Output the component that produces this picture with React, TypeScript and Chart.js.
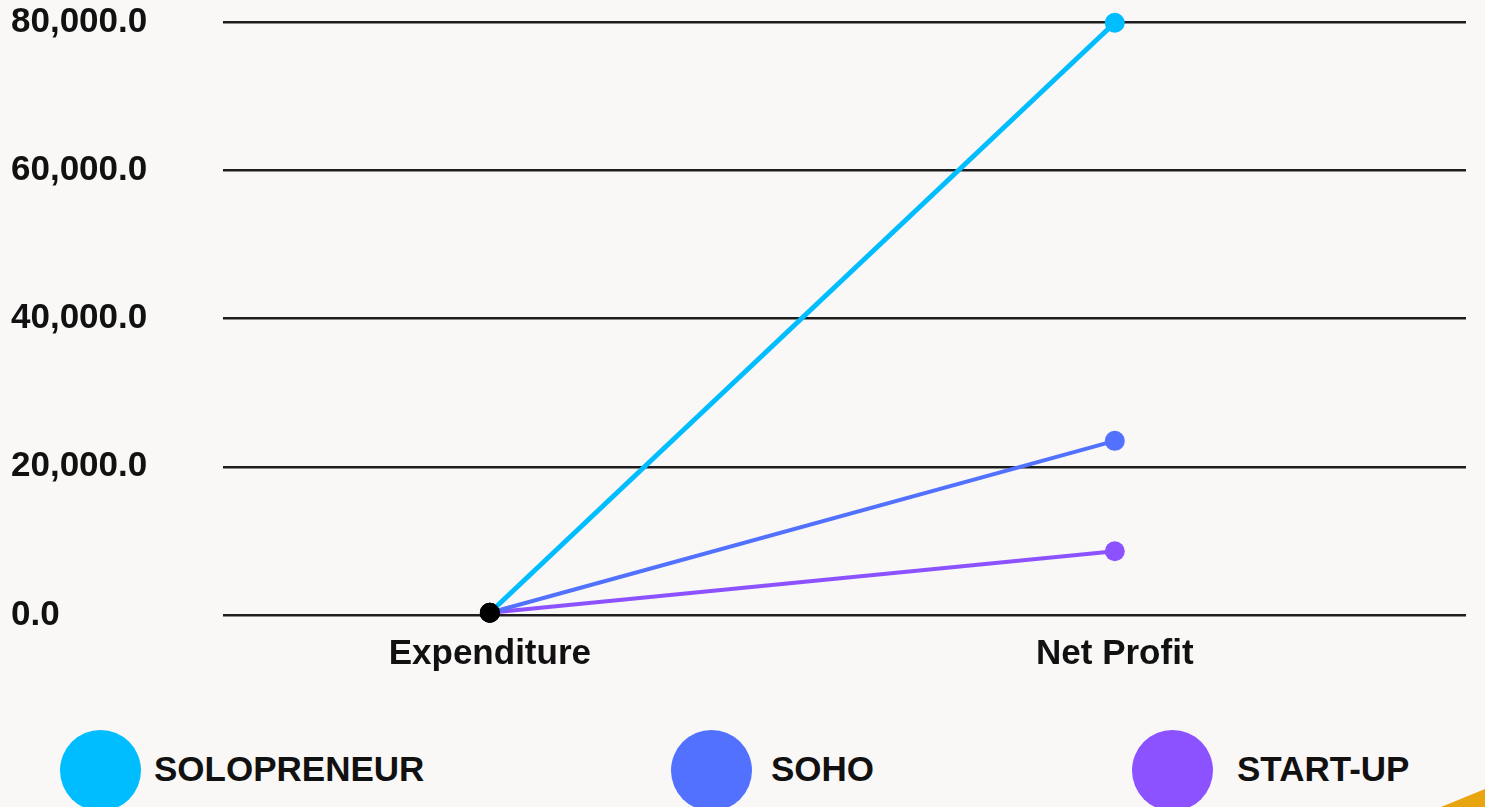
import React, { useEffect, useRef } from "react";
import { Chart, registerables } from "chart.js";

Chart.register(...registerables);

const categories = ["Expenditure", "Net Profit"];
const seriesNames = ["SOLOPRENEUR", "SOHO", "START-UP"];
const seriesColors = ["#00BDFF", "#5271FF", "#8C52FF"];
const solopreneur = [300, 79900];
const soho = [300, 23500];
const startUp = [300, 8600];
const yTicks = [0, 20000, 40000, 60000, 80000];

const FONT = "'Liberation Sans', Arial, sans-serif";
const TEXT = "#111111";

export default function App() {
  const canvasRef = useRef<HTMLCanvasElement | null>(null);

  useEffect(() => {
    const values = [solopreneur, soho, startUp];
    const datasets = seriesNames.map((name, i) => ({
      label: name,
      data: values[i].map((v, j) => ({ x: j, y: v })),
      borderColor: seriesColors[i],
      backgroundColor: seriesColors[i],
      pointBackgroundColor: values[i].map((_, j) => (j === 0 ? "#000000" : seriesColors[i])),
      pointBorderColor: values[i].map((_, j) => (j === 0 ? "#000000" : seriesColors[i])),
      pointRadius: 10,
      pointBorderWidth: 0,
      borderWidth: i === 0 ? 5 : 4,
      tension: 0,
      fill: false,
      clip: false,
    }));

    const chart = new Chart(canvasRef.current as HTMLCanvasElement, {
      type: "line",
      data: { datasets },
      options: {
        animation: false,
        responsive: true,
        maintainAspectRatio: false,
        layout: { padding: { top: 22, left: 11, right: 19, bottom: 15 } },
        plugins: {
          legend: { display: false },
          tooltip: { enabled: false },
        },
        scales: {
          x: {
            type: "linear",
            min: -0.427,
            max: 1.562,
            grid: { display: false },
            border: { display: false },
            afterBuildTicks: (scale: any) => {
              scale.ticks = categories.map((_, i) => ({ value: i }));
            },
            ticks: {
              padding: 10,
              maxRotation: 0,
              autoSkip: false,
              color: TEXT,
              font: { family: FONT, size: 35, weight: "bold" },
              callback: (v: any) => categories[Math.round(Number(v))] ?? "",
            },
          },
          y: {
            min: yTicks[0],
            max: yTicks[yTicks.length - 1],
            afterBuildTicks: (scale: any) => {
              scale.ticks = yTicks.map((v) => ({ value: v }));
            },
            afterFit: (scale: any) => {
              scale.width = 212;
            },
            grid: { color: "#1e1e1e", lineWidth: 2.5, drawTicks: false },
            border: { display: false },
            ticks: {
              crossAlign: "far",
              padding: 0,
              color: TEXT,
              font: { family: FONT, size: 35, weight: "bold" },
              callback: (v: any) =>
                Number(v).toLocaleString("en-US", { minimumFractionDigits: 1, maximumFractionDigits: 1 }),
            },
          },
        },
      } as any,
    });
    return () => chart.destroy();
  }, []);

  const legendPos = [
    { circle: 60, text: 154 },
    { circle: 671, text: 771 },
    { circle: 1132, text: 1237 },
  ];

  return (
    <div
      style={{
        position: "fixed",
        inset: 0,
        background: "#f9f8f6",
        overflow: "hidden",
      }}
    >
      <div style={{ position: "absolute", left: 0, top: 0, width: 1485, height: 700 }}>
        <canvas ref={canvasRef} />
      </div>
      {seriesNames.map((name, i) => (
        <React.Fragment key={name}>
          <div
            style={{
              position: "absolute",
              left: legendPos[i].circle,
              top: 730,
              width: 81,
              height: 81,
              borderRadius: "50%",
              background: seriesColors[i],
            }}
          />
          <div
            style={{
              position: "absolute",
              left: legendPos[i].text,
              top: 748,
              height: 42,
              lineHeight: "42px",
              fontFamily: FONT,
              fontWeight: "bold",
              fontSize: 35,
              color: TEXT,
              whiteSpace: "nowrap",
            }}
          >
            {name}
          </div>
        </React.Fragment>
      ))}
      <div
        style={{
          position: "absolute",
          right: 0,
          bottom: 0,
          width: 44,
          height: 18,
          background: "#E9A50F",
          clipPath: "polygon(100% 0, 100% 100%, 0 100%)",
        }}
      />
    </div>
  );
}
